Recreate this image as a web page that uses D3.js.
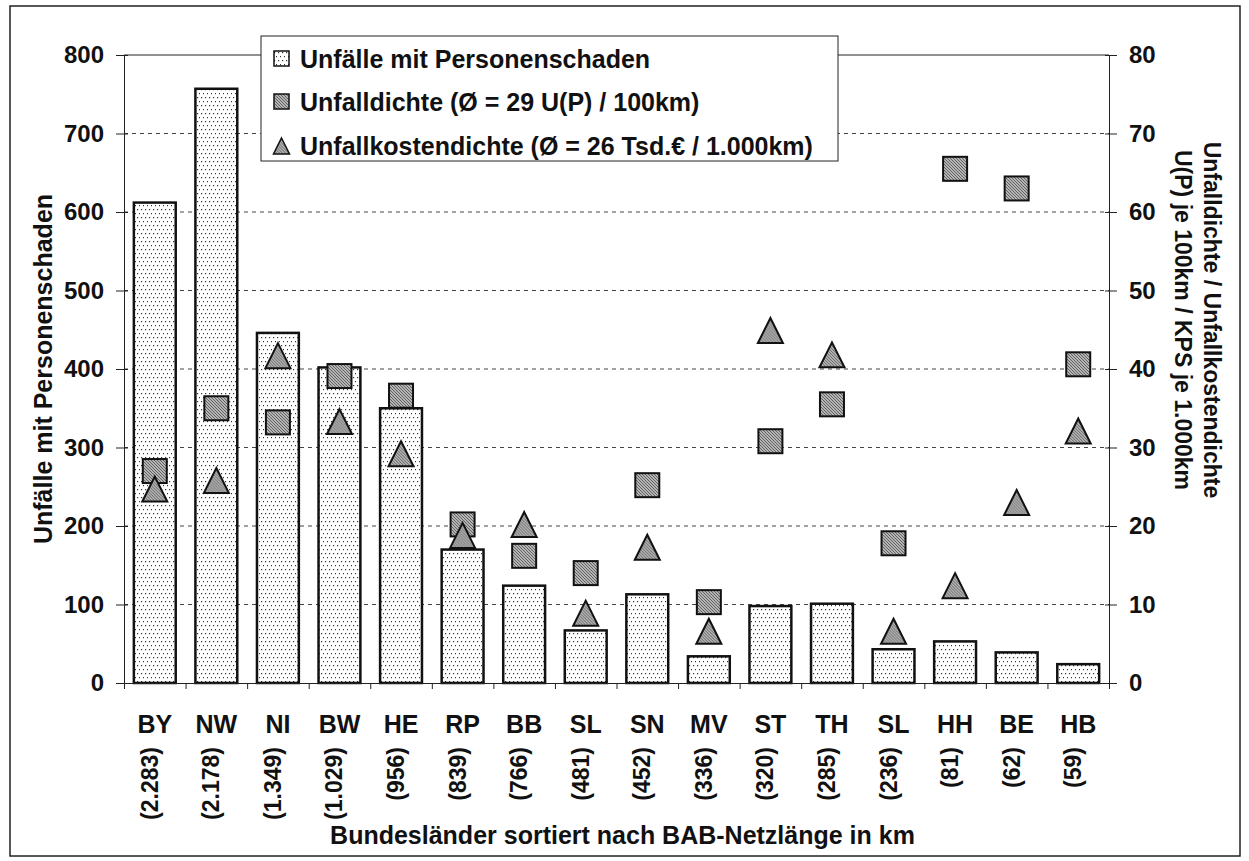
<!DOCTYPE html>
<html>
<head>
<meta charset="utf-8">
<script src="https://cdn.jsdelivr.net/npm/d3@7"></script>
<style>
  html, body { margin: 0; padding: 0; background: #fff; }
  svg { display: block; }
  text { font-family: "Liberation Sans", Arial, sans-serif; font-weight: bold; fill: #111; }
</style>
</head>
<body>
<svg id="chart" width="1249" height="861"></svg>
<script>
// Bundesländer, sorted by motorway (BAB) network length
const categories = ["BY", "NW", "NI", "BW", "HE", "RP", "BB", "SL", "SN", "MV", "ST", "TH", "SL", "HH", "BE", "HB"];
const netLengths = ["(2.283)", "(2.178)", "(1.349)", "(1.029)", "(956)", "(839)", "(766)", "(481)", "(452)", "(336)", "(320)", "(285)", "(236)", "(81)", "(62)", "(59)"];

// Unfälle mit Personenschaden (left axis)
const accidents = [612, 757, 446, 402, 350, 170, 124, 67, 113, 34, 98, 101, 43, 53, 39, 24];
// Unfalldichte, U(P) je 100 km (right axis)
const density = [27.0, 35.0, 33.2, 39.1, 36.6, 20.2, 16.2, 14.0, 25.2, 10.3, 30.8, 35.5, 17.8, 65.5, 63.0, 40.6];
// Unfallkostendichte, KPS je 1.000 km (right axis)
const costDensity = [24.7, 25.8, 41.7, 33.3, 29.2, 18.8, 20.2, 8.9, 17.3, 6.6, 44.9, 41.8, 6.6, 12.4, 23.0, 32.1];

const leftTicks = [0, 100, 200, 300, 400, 500, 600, 700, 800];
const rightTicks = [0, 10, 20, 30, 40, 50, 60, 70, 80];

const legendLabels = [
  "Unfälle mit Personenschaden",
  "Unfalldichte (Ø = 29 U(P) / 100km)",
  "Unfallkostendichte (Ø = 26 Tsd.€ / 1.000km)"
];
const xTitle = "Bundesländer sortiert nach BAB-Netzlänge in km";
const yLeftTitle = "Unfälle mit Personenschaden";
const yRightTitle = ["Unfalldichte / Unfallkostendichte", "U(P) je 100km / KPS je 1.000km"];

const svg = d3.select("#chart");
const plot = { left: 124, right: 1109, top: 55, bottom: 683 };

// Fill patterns: dotted bars, hatched grey markers
const defs = svg.append("defs");
const dots = defs.append("pattern").attr("id", "dots")
  .attr("patternUnits", "userSpaceOnUse").attr("width", 4).attr("height", 8);
dots.append("rect").attr("width", 4).attr("height", 8).attr("fill", "#fff");
dots.append("rect").attr("x", 1).attr("y", 1).attr("width", 1.2).attr("height", 1.2).attr("fill", "#333");
dots.append("rect").attr("x", 3).attr("y", 5).attr("width", 1.2).attr("height", 1.2).attr("fill", "#333");

const hatch = defs.append("pattern").attr("id", "hatch")
  .attr("patternUnits", "userSpaceOnUse").attr("width", 3).attr("height", 3);
hatch.append("rect").attr("width", 3).attr("height", 3).attr("fill", "#b4b4b4");
hatch.append("path").attr("d", "M0,0 L3,3 M-1,2 L1,4 M2,-1 L4,1")
  .attr("stroke", "#5a5a5a").attr("stroke-width", 0.9);

// Outer frame
svg.append("rect").attr("x", 10).attr("y", 6).attr("width", 1230).attr("height", 850)
  .attr("fill", "none").attr("stroke", "#222").attr("stroke-width", 1.5);

// Scales
const idx = d3.range(categories.length);
const x = d3.scaleBand().domain(idx).range([plot.left, plot.right])
  .paddingInner(0.32).paddingOuter(0.16);
const xEdges = d3.scaleLinear().domain([0, categories.length]).range([plot.left, plot.right]);
const yL = d3.scaleLinear().domain([0, 800]).range([plot.bottom, plot.top]);
const yR = d3.scaleLinear().domain([0, 80]).range([plot.bottom, plot.top]);

// Dashed gridlines
svg.append("g").selectAll("line")
  .data(leftTicks.filter(v => v > 0 && v < 800))
  .join("line")
  .attr("x1", plot.left).attr("x2", plot.right)
  .attr("y1", d => yL(d)).attr("y2", d => yL(d))
  .attr("stroke", "#444").attr("stroke-width", 1).attr("stroke-dasharray", "4,4");

// Plot area top border
svg.append("line").attr("x1", plot.left).attr("x2", plot.right)
  .attr("y1", yL(800)).attr("y2", yL(800)).attr("stroke", "#222").attr("stroke-width", 1);

// Bars
svg.append("g").selectAll("rect")
  .data(idx)
  .join("rect")
  .attr("x", i => x(i))
  .attr("width", x.bandwidth())
  .attr("y", i => yL(accidents[i]))
  .attr("height", i => yL(0) - yL(accidents[i]))
  .attr("fill", "url(#dots)")
  .attr("stroke", "#111").attr("stroke-width", 2.5);

// Axes
const axisStyle = g => {
  g.selectAll(".domain").attr("stroke", "#222").attr("stroke-width", 1);
  g.selectAll(".tick line").attr("stroke", "#222").attr("stroke-width", 1);
  g.selectAll(".tick text").attr("font-size", 24).attr("font-family", "Liberation Sans, Arial, sans-serif")
    .attr("font-weight", "bold").attr("fill", "#111");
};

const gL = svg.append("g").attr("transform", `translate(${plot.left},0)`)
  .call(d3.axisLeft(yL).tickValues(leftTicks).tickSizeInner(8).tickSizeOuter(0).tickPadding(12))
  .call(axisStyle);
gL.selectAll(".tick line").attr("x1", 4);

const gR = svg.append("g").attr("transform", `translate(${plot.right},0)`)
  .call(d3.axisRight(yR).tickValues(rightTicks).tickSizeInner(8).tickSizeOuter(0).tickPadding(12))
  .call(axisStyle);
gR.selectAll(".tick line").attr("x1", -4);

const gX = svg.append("g").attr("transform", `translate(0,${plot.bottom})`)
  .call(d3.axisBottom(xEdges).tickValues(d3.range(categories.length + 1)).tickSizeInner(6).tickSizeOuter(0).tickFormat(""))
  .call(axisStyle);

// Markers: squares (Unfalldichte) and triangles (Unfallkostendichte)
const sq = 24, tri = 12.5;
svg.append("g").selectAll("rect")
  .data(idx)
  .join("rect")
  .attr("x", i => x(i) + x.bandwidth() / 2 - sq / 2)
  .attr("y", i => yR(density[i]) - sq / 2)
  .attr("width", sq).attr("height", sq)
  .attr("fill", "url(#hatch)").attr("stroke", "#111").attr("stroke-width", 2);

const triPath = r => `M0,${-r} L${r},${r} L${-r},${r} Z`;
svg.append("g").selectAll("path")
  .data(idx)
  .join("path")
  .attr("transform", i => `translate(${x(i) + x.bandwidth() / 2},${yR(costDensity[i])})`)
  .attr("d", triPath(tri))
  .attr("fill", "url(#hatch)").attr("stroke", "#111").attr("stroke-width", 2)
  .attr("stroke-linejoin", "miter");

// Category labels and network lengths
const gCat = svg.append("g");
gCat.selectAll("text.cat")
  .data(idx)
  .join("text").attr("class", "cat")
  .attr("x", i => x(i) + x.bandwidth() / 2)
  .attr("y", 733)
  .attr("text-anchor", "middle")
  .attr("font-size", 25)
  .text(i => categories[i]);
gCat.selectAll("text.len")
  .data(idx)
  .join("text").attr("class", "len")
  .attr("transform", i => `translate(${x(i) + x.bandwidth() / 2 + 3},747) rotate(-90)`)
  .attr("text-anchor", "end")
  .attr("font-size", 23)
  .text(i => netLengths[i]);

// Axis titles
svg.append("text")
  .attr("x", (plot.left + plot.right) / 2 + 6).attr("y", 844)
  .attr("text-anchor", "middle").attr("font-size", 25)
  .text(xTitle);

svg.append("text")
  .attr("transform", `translate(52,${(plot.top + plot.bottom) / 2}) rotate(-90)`)
  .attr("text-anchor", "middle").attr("font-size", 25)
  .text(yLeftTitle);

const rt = svg.append("text")
  .attr("transform", `translate(1204,320) rotate(90)`)
  .attr("text-anchor", "middle").attr("font-size", 23);
rt.selectAll("tspan").data(yRightTitle).join("tspan")
  .attr("x", 0).attr("dy", (d, i) => i === 0 ? 0 : 29)
  .text(d => d);

// Legend
const lg = svg.append("g").attr("transform", "translate(261,36)");
lg.append("rect").attr("width", 577).attr("height", 125)
  .attr("fill", "#fff").attr("stroke", "#222").attr("stroke-width", 1);
const rowY = [23, 66, 110];
const rows = lg.selectAll("g.row").data(legendLabels).join("g")
  .attr("class", "row")
  .attr("transform", (d, i) => `translate(0,${rowY[i]})`);
rows.each(function (d, i) {
  const g = d3.select(this);
  if (i === 0) {
    g.append("rect").attr("x", 13).attr("y", -8).attr("width", 15).attr("height", 15)
      .attr("fill", "url(#dots)").attr("stroke", "#111").attr("stroke-width", 1.5);
  } else if (i === 1) {
    g.append("rect").attr("x", 13).attr("y", -8).attr("width", 15).attr("height", 15)
      .attr("fill", "url(#hatch)").attr("stroke", "#111").attr("stroke-width", 1.5);
  } else {
    g.append("path").attr("transform", "translate(20.5,0)").attr("d", triPath(8))
      .attr("fill", "url(#hatch)").attr("stroke", "#111").attr("stroke-width", 1.5);
  }
  g.append("text").attr("x", 39).attr("y", 9).attr("font-size", 25).text(d);
});
</script>
</body>
</html>
